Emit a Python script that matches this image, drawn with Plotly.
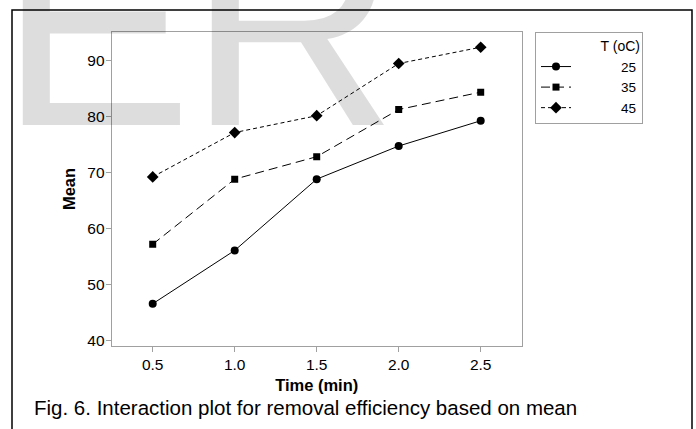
import plotly.graph_objects as go

# ---- data ----
time_min = [0.5, 1.0, 1.5, 2.0, 2.5]
temps = ["25", "35", "45"]
mean_25 = [46.6, 56.1, 68.8, 74.7, 79.2]
mean_35 = [57.2, 68.8, 72.8, 81.2, 84.3]
mean_45 = [69.2, 77.1, 80.1, 89.4, 92.3]
x_ticks = [0.5, 1.0, 1.5, 2.0, 2.5]
x_tick_labels = ["0.5", "1.0", "1.5", "2.0", "2.5"]
y_ticks = [40, 50, 60, 70, 80, 90]

W, H = 696, 429
FONT = "Liberation Sans, Arial, sans-serif"

def px_x(p):
    return p / W

def px_y(p):
    return (H - p) / H

series = [
    (temps[0], mean_25, "solid", "circle", 8),
    (temps[1], mean_35, "9px,5px", "square", 7),
    (temps[2], mean_45, "4px,3px", "diamond", 9),
]

fig = go.Figure()
pad = "\u00a0" * 12
for name, vals, dash, sym, size in series:
    fig.add_trace(go.Scatter(
        x=time_min, y=vals, name=pad + name, mode="lines+markers",
        line=dict(color="black", width=1, dash=dash),
        marker=dict(symbol=sym, size=size, color="black"),
    ))

axis_gray = "#a0a0a0"
fig.update_layout(
    width=W, height=H,
    margin=dict(l=0, r=0, t=0, b=0),
    paper_bgcolor="white", plot_bgcolor="rgba(0,0,0,0)",
    font=dict(family=FONT, color="black", size=15.5),
    xaxis=dict(
        domain=[px_x(111.7), px_x(521.7)], range=[0.25, 2.75],
        tickvals=x_ticks, ticktext=x_tick_labels,
        showgrid=False, zeroline=False,
        showline=True, linecolor=axis_gray, linewidth=1, mirror=True,
        ticks="outside", ticklen=5, tickcolor=axis_gray,
        tickfont=dict(size=15.5),
        title=dict(text="<b>Time (min)</b>", font=dict(size=16.5), standoff=6),
    ),
    yaxis=dict(
        domain=[px_y(348.3), px_y(32.3)], range=[39.1, 95.0],
        tickvals=y_ticks,
        showgrid=False, zeroline=False,
        showline=True, linecolor=axis_gray, linewidth=1, mirror=True,
        ticks="outside", ticklen=5, tickcolor=axis_gray,
        tickfont=dict(size=15.5), ticklabelstandoff=-2,
        title=dict(text="<b>Mean</b>", font=dict(size=16.5), standoff=7),
    ),
    legend=dict(
        x=px_x(535), y=px_y(32.3), xanchor="left", yanchor="top",
        bordercolor=axis_gray, borderwidth=1, bgcolor="white",
        font=dict(size=13.5),
        title=dict(text="T (oC)", side="top right", font=dict(size=14)),
        tracegroupgap=0, itemwidth=30,
    ),
    showlegend=True,
)

# watermark letters (translucent so lines stay visible on top)
for letter, left in (("E", -3), ("R", 186)):
    fig.add_annotation(
        text=letter, xref="paper", yref="paper",
        x=px_x(left), y=px_y(128 + 61), xanchor="left", yanchor="bottom",
        showarrow=False, font=dict(family=FONT, size=290, color="rgba(0,0,0,0.135)"),
    )

# caption
fig.add_annotation(
    text="Fig. 6. Interaction plot for removal efficiency based on mean",
    xref="paper", yref="paper", x=px_x(31.7), y=px_y(410),
    xanchor="left", yanchor="middle", showarrow=False,
    font=dict(family=FONT, size=20.5, color="black"),
)

# outer frame
fig.add_shape(
    type="rect", xref="paper", yref="paper",
    x0=px_x(12), x1=px_x(692), y0=-0.2, y1=px_y(10),
    line=dict(color="black", width=1.5), fillcolor="rgba(0,0,0,0)",
)

fig.write_html(
    "out.html",
    config={"displayModeBar": False},
    post_script="document.body.style.margin='0px';document.body.style.overflow='hidden';",
)
